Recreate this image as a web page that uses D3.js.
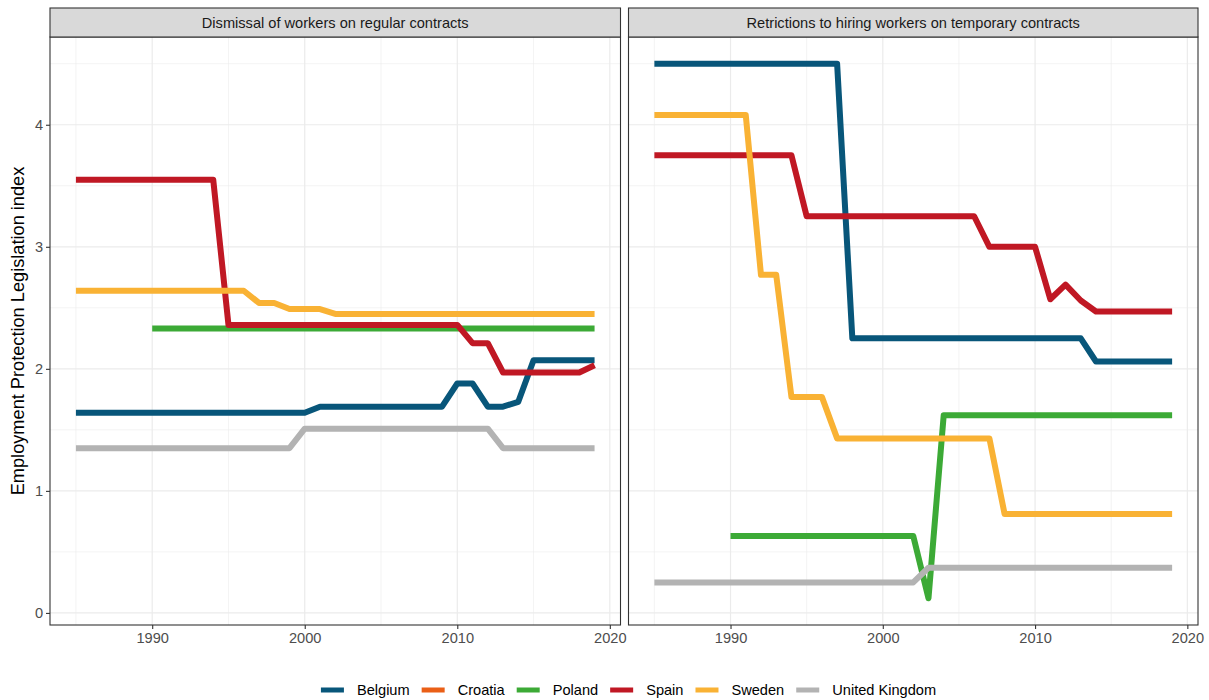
<!DOCTYPE html>
<html>
<head>
<meta charset="utf-8">
<script src="https://cdn.jsdelivr.net/npm/d3@7"></script>
<style>
  html, body { margin: 0; padding: 0; background: #ffffff; }
  svg { display: block; font-family: "Liberation Sans", Arial, sans-serif; }
</style>
</head>
<body>
<svg id="chart" width="1209" height="700"></svg>
<script>
// Years covered by every series
const years = [1985, 1986, 1987, 1988, 1989, 1990, 1991, 1992, 1993, 1994,
               1995, 1996, 1997, 1998, 1999, 2000, 2001, 2002, 2003, 2004,
               2005, 2006, 2007, 2008, 2009, 2010, 2011, 2012, 2013, 2014,
               2015, 2016, 2017, 2018, 2019];

const countries = ["Belgium", "Croatia", "Poland", "Spain", "Sweden", "United Kingdom"];
const panelTitles = ["Dismissal of workers on regular contracts",
                     "Retrictions to hiring workers on temporary contracts"];

const yTicks = [0, 1, 2, 3, 4];
const xTicks = [1990, 2000, 2010, 2020];
const yMinor = [0.5, 1.5, 2.5, 3.5, 4.5];
const xMinor = [1985, 1995, 2005, 2015];

// Regular contracts (EPL index), one value per year, null = not available
const regBelgium = [1.64, 1.64, 1.64, 1.64, 1.64, 1.64, 1.64, 1.64, 1.64, 1.64,
                    1.64, 1.64, 1.64, 1.64, 1.64, 1.64, 1.69, 1.69, 1.69, 1.69,
                    1.69, 1.69, 1.69, 1.69, 1.69, 1.88, 1.88, 1.69, 1.69, 1.73,
                    2.07, 2.07, 2.07, 2.07, 2.07];
const regCroatia = [null, null, null, null, null, null, null, null, null, null,
                    null, null, null, null, null, null, null, null, null, null,
                    null, null, null, null, null, null, null, null, null, null,
                    null, null, null, null, null];
const regPoland = [null, null, null, null, null, 2.33, 2.33, 2.33, 2.33, 2.33,
                   2.33, 2.33, 2.33, 2.33, 2.33, 2.33, 2.33, 2.33, 2.33, 2.33,
                   2.33, 2.33, 2.33, 2.33, 2.33, 2.33, 2.33, 2.33, 2.33, 2.33,
                   2.33, 2.33, 2.33, 2.33, 2.33];
const regSpain = [3.55, 3.55, 3.55, 3.55, 3.55, 3.55, 3.55, 3.55, 3.55, 3.55,
                  2.36, 2.36, 2.36, 2.36, 2.36, 2.36, 2.36, 2.36, 2.36, 2.36,
                  2.36, 2.36, 2.36, 2.36, 2.36, 2.36, 2.21, 2.21, 1.97, 1.97,
                  1.97, 1.97, 1.97, 1.97, 2.03];
const regSweden = [2.64, 2.64, 2.64, 2.64, 2.64, 2.64, 2.64, 2.64, 2.64, 2.64,
                   2.64, 2.64, 2.54, 2.54, 2.49, 2.49, 2.49, 2.45, 2.45, 2.45,
                   2.45, 2.45, 2.45, 2.45, 2.45, 2.45, 2.45, 2.45, 2.45, 2.45,
                   2.45, 2.45, 2.45, 2.45, 2.45];
const regUK = [1.35, 1.35, 1.35, 1.35, 1.35, 1.35, 1.35, 1.35, 1.35, 1.35,
               1.35, 1.35, 1.35, 1.35, 1.35, 1.51, 1.51, 1.51, 1.51, 1.51,
               1.51, 1.51, 1.51, 1.51, 1.51, 1.51, 1.51, 1.51, 1.35, 1.35,
               1.35, 1.35, 1.35, 1.35, 1.35];

// Temporary contracts (EPL index)
const tmpBelgium = [4.50, 4.50, 4.50, 4.50, 4.50, 4.50, 4.50, 4.50, 4.50, 4.50,
                    4.50, 4.50, 4.50, 2.25, 2.25, 2.25, 2.25, 2.25, 2.25, 2.25,
                    2.25, 2.25, 2.25, 2.25, 2.25, 2.25, 2.25, 2.25, 2.25, 2.06,
                    2.06, 2.06, 2.06, 2.06, 2.06];
const tmpCroatia = [null, null, null, null, null, null, null, null, null, null,
                    null, null, null, null, null, null, null, null, null, null,
                    null, null, null, null, null, null, null, null, null, null,
                    null, null, null, null, null];
const tmpPoland = [null, null, null, null, null, 0.63, 0.63, 0.63, 0.63, 0.63,
                   0.63, 0.63, 0.63, 0.63, 0.63, 0.63, 0.63, 0.63, 0.12, 1.62,
                   1.62, 1.62, 1.62, 1.62, 1.62, 1.62, 1.62, 1.62, 1.62, 1.62,
                   1.62, 1.62, 1.62, 1.62, 1.62];
const tmpSpain = [3.75, 3.75, 3.75, 3.75, 3.75, 3.75, 3.75, 3.75, 3.75, 3.75,
                  3.25, 3.25, 3.25, 3.25, 3.25, 3.25, 3.25, 3.25, 3.25, 3.25,
                  3.25, 3.25, 3.00, 3.00, 3.00, 3.00, 2.57, 2.69, 2.56, 2.47,
                  2.47, 2.47, 2.47, 2.47, 2.47];
const tmpSweden = [4.08, 4.08, 4.08, 4.08, 4.08, 4.08, 4.08, 2.77, 2.77, 1.77,
                   1.77, 1.77, 1.43, 1.43, 1.43, 1.43, 1.43, 1.43, 1.43, 1.43,
                   1.43, 1.43, 1.43, 0.81, 0.81, 0.81, 0.81, 0.81, 0.81, 0.81,
                   0.81, 0.81, 0.81, 0.81, 0.81];
const tmpUK = [0.25, 0.25, 0.25, 0.25, 0.25, 0.25, 0.25, 0.25, 0.25, 0.25,
               0.25, 0.25, 0.25, 0.25, 0.25, 0.25, 0.25, 0.25, 0.37, 0.37,
               0.37, 0.37, 0.37, 0.37, 0.37, 0.37, 0.37, 0.37, 0.37, 0.37,
               0.37, 0.37, 0.37, 0.37, 0.37];

const colors = {
  "Belgium": "#08567a",
  "Croatia": "#ea5f16",
  "Poland": "#3caa36",
  "Spain": "#c01824",
  "Sweden": "#f9b234",
  "United Kingdom": "#b3b3b3"
};

const panels = [
  { title: panelTitles[0], series: [regBelgium, regCroatia, regPoland, regSpain, regSweden, regUK] },
  { title: panelTitles[1], series: [tmpBelgium, tmpCroatia, tmpPoland, tmpSpain, tmpSweden, tmpUK] }
];

// ---- layout ----
const svg = d3.select("#chart");
const plotTop = 37, plotBottom = 625, stripTop = 8;
const panelX = [[50, 620.5], [628.5, 1198]];
const smallFont = 14.6;

// shared scales with 5% padding on each side
const allVals = panels.flatMap(p => p.series.flat()).filter(v => v != null);
const yMin = d3.min(allVals), yMax = d3.max(allVals);
const yPad = (yMax - yMin) * 0.05;
const xMinY = d3.min(years), xMaxY = d3.max(years);
const xPad = (xMaxY - xMinY) * 0.05;

const y = d3.scaleLinear().domain([yMin - yPad, yMax + yPad]).range([plotBottom, plotTop]);

panels.forEach((p, pi) => {
  const [x0, x1] = panelX[pi];
  const x = d3.scaleLinear().domain([xMinY - xPad, xMaxY + xPad]).range([x0, x1]);
  const g = svg.append("g");

  // background
  g.append("rect").attr("x", x0).attr("y", plotTop).attr("width", x1 - x0)
    .attr("height", plotBottom - plotTop).attr("fill", "#ffffff");

  // minor grid
  g.selectAll(".ymin").data(yMinor).join("line")
    .attr("x1", x0).attr("x2", x1).attr("y1", d => y(d)).attr("y2", d => y(d))
    .attr("stroke", "#ebebeb").attr("stroke-width", 0.6);
  g.selectAll(".xmin").data(xMinor).join("line")
    .attr("y1", plotTop).attr("y2", plotBottom).attr("x1", d => x(d)).attr("x2", d => x(d))
    .attr("stroke", "#ebebeb").attr("stroke-width", 0.6);
  // major grid
  g.selectAll(".ymaj").data(yTicks).join("line")
    .attr("x1", x0).attr("x2", x1).attr("y1", d => y(d)).attr("y2", d => y(d))
    .attr("stroke", "#ebebeb").attr("stroke-width", 1.2);
  g.selectAll(".xmaj").data(xTicks).join("line")
    .attr("y1", plotTop).attr("y2", plotBottom).attr("x1", d => x(d)).attr("x2", d => x(d))
    .attr("stroke", "#ebebeb").attr("stroke-width", 1.2);

  // series lines
  const line = d3.line()
    .defined(d => d[1] != null)
    .x(d => x(d[0])).y(d => y(d[1]));
  p.series.forEach((vals, si) => {
    const pts = years.map((yr, i) => [yr, vals[i]]);
    g.append("path").datum(pts)
      .attr("d", line)
      .attr("fill", "none")
      .attr("stroke", colors[countries[si]])
      .attr("stroke-width", 6)
      .attr("stroke-linejoin", "round")
      .attr("stroke-linecap", "butt");
  });

  // panel border
  g.append("rect").attr("x", x0).attr("y", plotTop).attr("width", x1 - x0)
    .attr("height", plotBottom - plotTop).attr("fill", "none")
    .attr("stroke", "#333333").attr("stroke-width", 1.1);

  // strip
  g.append("rect").attr("x", x0).attr("y", stripTop).attr("width", x1 - x0)
    .attr("height", plotTop - stripTop).attr("fill", "#d9d9d9")
    .attr("stroke", "#333333").attr("stroke-width", 1.1);
  g.append("text").attr("x", (x0 + x1) / 2).attr("y", (stripTop + plotTop) / 2 + 0.5)
    .attr("text-anchor", "middle").attr("dominant-baseline", "central")
    .attr("font-size", smallFont).attr("fill", "#1a1a1a").text(p.title);

  // x axis
  const xAxis = d3.axisBottom(x).tickValues(xTicks).tickFormat(d3.format("d"))
    .tickSize(4).tickPadding(4);
  const xa = g.append("g").attr("transform", `translate(0,${plotBottom})`).call(xAxis);
  xa.select(".domain").remove();
  xa.selectAll(".tick line").attr("stroke", "#333333").attr("stroke-width", 1.1);
  xa.selectAll(".tick text").attr("fill", "#4d4d4d").attr("font-size", smallFont)
    .attr("font-family", "Liberation Sans, Arial, sans-serif");

  // y axis on first panel only
  if (pi === 0) {
    const yAxis = d3.axisLeft(y).tickValues(yTicks).tickFormat(d3.format("d"))
      .tickSize(4).tickPadding(3);
    const ya = g.append("g").attr("transform", `translate(${x0},0)`).call(yAxis);
    ya.select(".domain").remove();
    ya.selectAll(".tick line").attr("stroke", "#333333").attr("stroke-width", 1.1);
    ya.selectAll(".tick text").attr("fill", "#4d4d4d").attr("font-size", smallFont)
      .attr("font-family", "Liberation Sans, Arial, sans-serif");
  }
});

// y-axis title
svg.append("text")
  .attr("transform", `translate(24,${(plotTop + plotBottom) / 2}) rotate(-90)`)
  .attr("text-anchor", "middle")
  .attr("font-size", 18.2).attr("fill", "#000000")
  .text("Employment Protection Legislation index");

// legend along the bottom
const legendY = 690;
const keyW = 23, keyH = 5, keyGap = 13, itemGap = 12;
const lg = svg.append("g");
let cursor = 0;
countries.forEach(c => {
  const it = lg.append("g");
  it.append("rect").attr("x", 0).attr("y", legendY - keyH / 2)
    .attr("width", keyW).attr("height", keyH).attr("fill", colors[c]);
  const t = it.append("text").attr("x", keyW + keyGap).attr("y", legendY)
    .attr("dominant-baseline", "central").attr("font-size", smallFont).attr("fill", "#000000").text(c);
  const tw = t.node().getComputedTextLength();
  it.attr("transform", `translate(${cursor},0)`);
  cursor += keyW + keyGap + tw + itemGap;
});
const totalW = cursor - itemGap;
const legendCenter = 628.5;
lg.attr("transform", `translate(${legendCenter - totalW / 2},0)`);
</script>
</body>
</html>
